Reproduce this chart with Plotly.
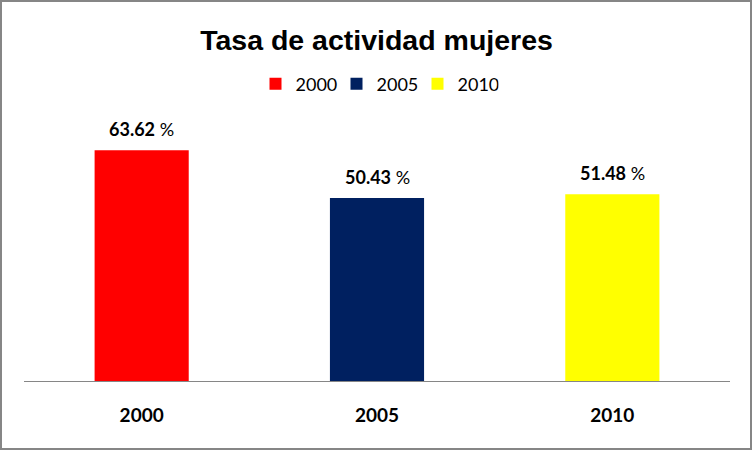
import plotly.graph_objects as go

categories = ["2000", "2005", "2010"]
values = [63.62, 50.43, 51.48]
colors = ["#FF0000", "#002060", "#FFFF00"]
title_text = "Tasa de actividad mujeres"

W, H = 753, 451
L, R, T, B = 24, 23, 127, 70
pw, ph = W - L - R, H - T - B

FONT = "Lato, 'Open Sans', sans-serif"
TFONT = "'Liberation Sans', Arial, sans-serif"

fig = go.Figure()
for i, (cat, val, col) in enumerate(zip(categories, values, colors)):
    fig.add_trace(go.Bar(
        x=[cat], y=[val], name=cat, marker=dict(color=col, line=dict(width=0)),
        width=0.4, hoverinfo="skip"
    ))
    fig.add_annotation(
        x=i, y=val, xref="x", yref="y", text=f"<b>{val:.2f}</b> %", showarrow=False,
        yshift=21, font=dict(family=FONT, size=18, color="#000000")
    )

fig.update_layout(
    width=W, height=H,
    margin=dict(l=L, r=R, t=T, b=B, autoexpand=False),
    paper_bgcolor="white", plot_bgcolor="white",
    barmode="overlay",
    title=dict(text=f"<b>{title_text}</b>", x=0.5, xanchor="center",
               y=1 - 40 / H, yanchor="middle",
               font=dict(family=TFONT, size=28.5, color="#000000")),
    legend=dict(orientation="h", x=0.5, xanchor="center", y=(381 - 84) / ph,
                yanchor="middle", font=dict(family=FONT, size=18, color="#000000"),
                entrywidth=36, entrywidthmode="pixels",
                traceorder="normal", bgcolor="rgba(0,0,0,0)"),
    xaxis=dict(type="category", categoryorder="array", categoryarray=categories,
               range=[-0.5, 2.5],
               showline=True, linecolor="#868686", linewidth=1, ticks="",
               tickfont=dict(family=FONT, size=19, color="#000000"),
               ticklabelstandoff=17, showgrid=False,
               tickvals=categories, ticktext=[f"<b>{c}</b>" for c in categories]),
    yaxis=dict(range=[0, 70], visible=False, showgrid=False, zeroline=False),
    showlegend=True,
)

fig.add_shape(type="rect", xref="paper", yref="paper",
              x0=(1 - L) / pw, x1=(751 - L) / pw,
              y0=(381 - 449) / ph, y1=(381 - 1) / ph,
              line=dict(color="#868686", width=2), fillcolor="rgba(0,0,0,0)",
              layer="above")

fig.write_html("out.html", config={"displayModeBar": False},
               post_script="document.body.style.margin='0';")
